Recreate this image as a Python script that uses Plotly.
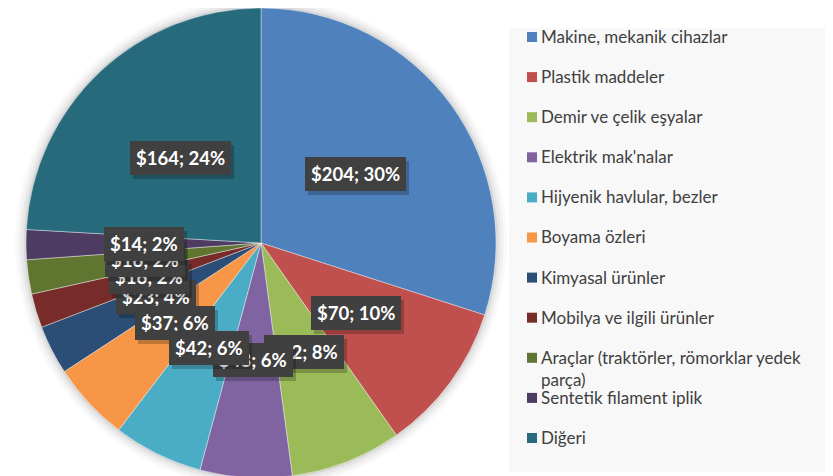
import math
import plotly.graph_objects as go

# Ticaret verisi - ürün grupları (milyon $)
categories = [
    "Makine, mekanik cihazlar",
    "Plastik maddeler",
    "Demir ve çelik eşyalar",
    "Elektrik mak'nalar",
    "Hijyenik havlular, bezler",
    "Boyama özleri",
    "Kimyasal ürünler",
    "Mobilya ve ilgili ürünler",
    "Araçlar (traktörler, römorklar yedek<br>parça)",
    "Sentetik filament iplik",
    "Diğeri",
]
values = [204, 70, 52, 43, 42, 37, 23, 16, 16, 14, 164]
# yüzde etiketleri grafikte yazıldığı gibi
pct_labels = ["30%", "10%", "8%", "6%", "6%", "6%", "4%", "2%", "2%", "2%", "24%"]
colors = ["#4F81BD", "#C0504D", "#9BBB59", "#8064A2", "#4BACC6", "#F79646",
          "#2C4D75", "#772C2A", "#5F7530", "#4D3B62", "#276A7C"]

W, H = 833, 476
OFF = 8  # page body margin, figure starts 8px in


def fx(v):
    # viewport pixel -> paper x
    return (v - OFF) / W


def fy(v):
    # viewport pixel (from top) -> paper y
    return 1 - (v - OFF) / H


# pie geometry in viewport pixels
cx, cy, R = 261, 243, 235

fig = go.Figure()
fig.add_trace(go.Pie(
    labels=[c.replace("<br>", " ") for c in categories],
    values=values,
    sort=False,
    direction="clockwise",
    rotation=0,
    textinfo="none",
    hoverinfo="label+value+percent",
    showlegend=False,
    marker=dict(colors=colors, line=dict(color="rgba(255,255,255,0.5)", width=0.8)),
    domain=dict(x=[fx(cx - R), fx(cx + R)], y=[fy(cy + R), min(1, fy(cy - R))]),
))

shapes = []
# soft glow behind pie
for d, a in [(11, 0.02), (8, 0.03), (5, 0.045), (2, 0.07)]:
    shapes.append(dict(
        type="circle", xref="paper", yref="paper", layer="below",
        x0=fx(cx - R - d), x1=fx(cx + R + d),
        y0=fy(cy + R + d), y1=fy(cy - R - d),
        fillcolor=f"rgba(0,0,0,{a})", line=dict(width=0),
    ))
# legend panel
shapes.append(dict(
    type="rect", xref="paper", yref="paper", layer="below",
    x0=fx(509), x1=fx(845), y0=fy(472), y1=fy(28),
    fillcolor="#F8F8F8", line=dict(width=0),
))

annotations = []
# legend entries (manual, to keep Excel-like spacing)
for i, (name, col) in enumerate(zip(categories, colors)):
    yc = 37 + 40.1 * i
    shapes.append(dict(
        type="rect", xref="paper", yref="paper",
        x0=fx(527), x1=fx(537), y0=fy(yc + 5), y1=fy(yc - 5),
        fillcolor=col, line=dict(width=0),
    ))
    annotations.append(dict(
        x=fx(539), y=fy(yc - 13), xref="paper", yref="paper",
        xanchor="left", yanchor="top", align="left", showarrow=False,
        text=name, font=dict(family="Lato", size=17, color="#404040"),
    ))

# data labels at half radius, slice mid-angle
total = sum(values)
cum = 0
pos = []
for v in values:
    mid = (cum + v / 2) / total * 2 * math.pi
    cum += v
    pos.append((cx + 0.5 * R * math.sin(mid), cy - 0.5 * R * math.cos(mid)))

draw_order = [0, 1, 2, 3, 6, 5, 4, 7, 8, 9, 10]
for i in draw_order:
    x, y = pos[i]
    txt = f"${values[i]}; {pct_labels[i]}"
    common = dict(x=fx(x), y=fy(y), xref="paper", yref="paper", showarrow=False,
                  xanchor="center", yanchor="middle",
                  text=txt, borderpad=6, borderwidth=0)
    annotations.append(dict(common, xshift=3, yshift=-4,
                            font=dict(family="Lato", size=18.5, color="rgba(0,0,0,0)", weight="bold"),
                            bgcolor="rgba(0,0,0,0.22)"))
    annotations.append(dict(common,
                            font=dict(family="Lato", size=18.5, color="white", weight="bold"),
                            bgcolor="#404040"))

fig.update_layout(
    width=W, height=H,
    margin=dict(l=0, r=0, t=0, b=0),
    paper_bgcolor="white",
    plot_bgcolor="white",
    shapes=shapes,
    annotations=annotations,
    showlegend=False,
)

fig.write_html("out.html")
